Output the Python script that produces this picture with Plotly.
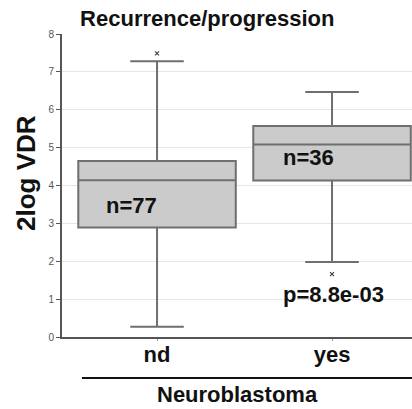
import plotly.graph_objects as go

categories = ["nd", "yes"]
q1 = [2.89, 4.13]
median = [4.14, 5.08]
q3 = [4.65, 5.57]
lowerfence = [0.27, 1.98]
upperfence = [7.28, 6.47]
outlier_x = ["nd", "yes"]
outlier_y = [7.49, 1.66]
n_labels = ["n=77", "n=36"]
n_label_x = [-0.146, 0.863]
n_label_y = [3.46, 4.75]
p_text = "p=8.8e-03"
p_x = 1.01
p_y = 1.13
yticks = [0, 1, 2, 3, 4, 5, 6, 7, 8]

FONT = "Liberation Sans, Arial, sans-serif"
LINE = "#6f6f6f"

fig = go.Figure()
fig.add_trace(go.Box(
    x=categories, q1=q1, median=median, q3=q3,
    lowerfence=lowerfence, upperfence=upperfence,
    width=0.9,
    fillcolor="#cbcbcb", line=dict(color=LINE, width=2),
    whiskerwidth=0.34, boxpoints=False, showlegend=False,
    hoverinfo="skip",
))
fig.add_trace(go.Scatter(
    x=outlier_x, y=outlier_y, mode="markers",
    marker=dict(symbol="x-thin", size=4, line=dict(color="#444", width=1.2), color="#444"),
    showlegend=False, hoverinfo="skip",
))

annotations = []
for t, x, y in zip(n_labels, n_label_x, n_label_y):
    annotations.append(dict(x=x, y=y, xref="x", yref="y", text=f"<b>{t}</b>",
                            showarrow=False, font=dict(size=22, color="#111", family=FONT)))
annotations.append(dict(x=p_x, y=p_y, xref="x", yref="y", text=f"<b>{p_text}</b>",
                        showarrow=False, font=dict(size=22, color="#111", family=FONT)))
annotations.append(dict(x=0.5, y=-0.19, xref="paper", yref="paper", text="<b>Neuroblastoma</b>",
                        showarrow=False, xanchor="center", yanchor="middle",
                        font=dict(size=22, color="#111", family=FONT)))
annotations.append(dict(x=-0.103, y=0.541, xref="paper", yref="paper", text="<b>2log VDR</b>",
                        showarrow=False, xanchor="center", yanchor="middle", textangle=-90,
                        font=dict(size=26, color="#111", family=FONT)))

fig.update_layout(
    width=412, height=409,
    margin=dict(l=62, r=0, t=34, b=72),
    paper_bgcolor="white", plot_bgcolor="white",
    font=dict(family=FONT),
    title=dict(text="<b>Recurrence/progression</b>", x=0.503, xanchor="center",
               y=1 - 18 / 409, yanchor="middle", yref="container",
               font=dict(size=22, color="#111", family=FONT)),
    annotations=annotations,
    shapes=[dict(type="line", xref="paper", yref="paper", x0=0.057, x1=1.0,
                 y0=-0.135, y1=-0.135, line=dict(color="#111", width=2))],
    xaxis=dict(type="category", range=[-0.543, 1.457], showgrid=False,
               showline=True, linecolor="#555", linewidth=2,
               ticks="outside", ticklen=2, tickcolor="#999",
               ticklabelstandoff=-5,
               tickfont=dict(size=22, color="#111", family=FONT),
               tickprefix="<b>", ticksuffix="</b>", zeroline=False),
    yaxis=dict(range=[0, 8], tickvals=yticks, showgrid=True, gridcolor="#e6e6e6",
               gridwidth=1, showline=True, linecolor="#555", linewidth=2,
               ticks="outside", ticklen=4, tickcolor="#555",
               tickfont=dict(size=10, color="#555", family=FONT),
               zeroline=False),
)

fig.write_html("out.html")
